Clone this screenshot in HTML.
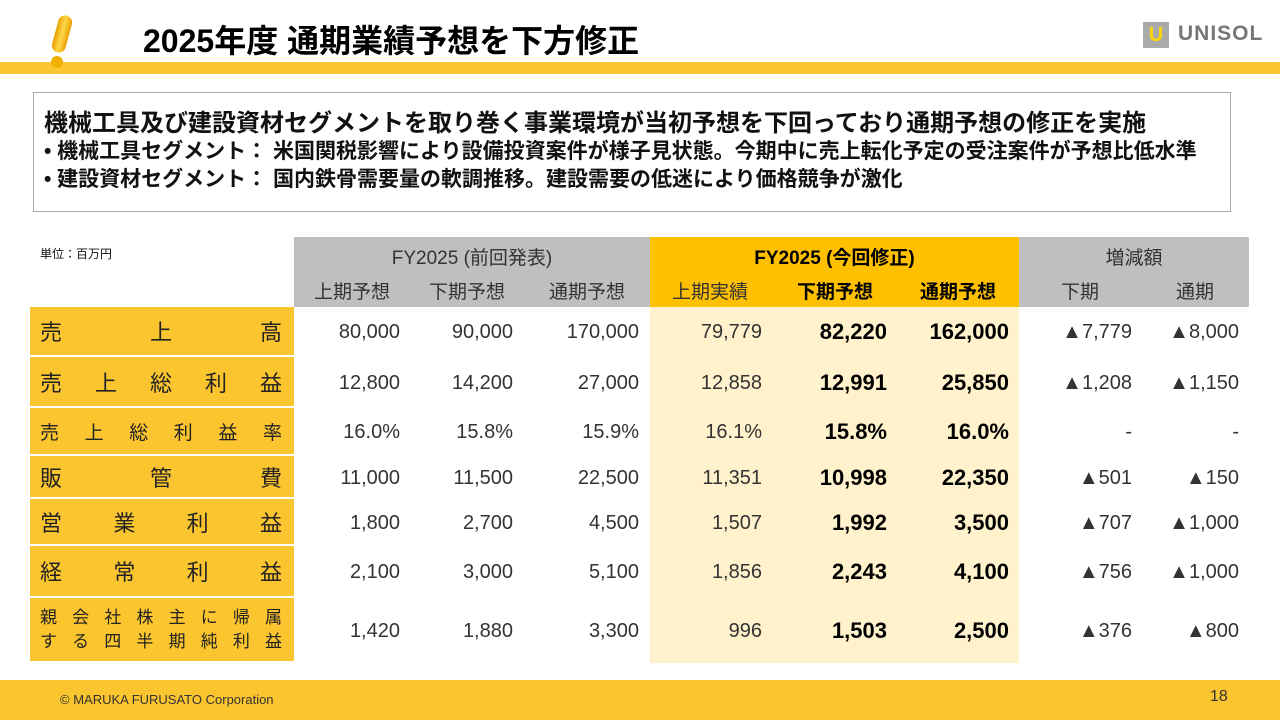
<!DOCTYPE html>
<html><head><meta charset="utf-8"><style>
*{margin:0;padding:0;box-sizing:border-box}
body{width:1280px;height:720px;position:relative;background:#fff;font-family:"Liberation Sans","Noto Sans CJK JP",sans-serif;color:#111;overflow:hidden}
.a{position:absolute}
.lab{position:absolute;left:30px;width:264px;background:#FBC52F;display:flex;justify-content:space-between;align-items:center;padding:0 12px 0 10px;font-size:22px;color:#222}
.v{position:absolute;text-align:right;font-size:20px;color:#333}
.b{font-weight:bold;font-size:22px;color:#000}
.h{position:absolute;text-align:center;font-size:19px;color:#333}
</style></head><body>
<div class="a" style="left:0;top:62px;width:1280px;height:12px;background:#FBC52F"></div>
<div class="a" style="left:55px;top:15px;width:14px;height:38px;background:linear-gradient(90deg,#e8a000,#ffd84a,#e8a000);border-radius:7px;transform:rotate(15deg)"></div>
<div class="a" style="left:51px;top:56px;width:12px;height:12px;background:#f0b000;border-radius:6px"></div>
<div class="a" style="left:143px;top:16px;font-size:32px;font-weight:bold;color:#000;white-space:nowrap">2025年度 通期業績予想を下方修正</div>
<div class="a" style="left:1143px;top:22px;width:26px;height:26px;background:#aaa;color:#ffd700;font-weight:bold;font-size:20px;text-align:center;line-height:26px">U</div>
<div class="a" style="left:1178px;top:22px;font-size:21px;font-weight:bold;color:#777;letter-spacing:1px">UNISOL</div>
<div class="a" style="left:33px;top:92px;width:1198px;height:120px;border:1px solid #aaa;padding:16px 0 0 10px;font-weight:bold;color:#111;white-space:nowrap">
<div style="font-size:24px;line-height:29px">機械工具及び建設資材セグメントを取り巻く事業環境が当初予想を下回っており通期予想の修正を実施</div>
<div style="font-size:21px;line-height:28px">• 機械工具セグメント： 米国関税影響により設備投資案件が様子見状態。今期中に売上転化予定の受注案件が予想比低水準</div>
<div style="font-size:21px;line-height:28px">• 建設資材セグメント： 国内鉄骨需要量の軟調推移。建設需要の低迷により価格競争が激化</div>
</div>
<div class="a" style="left:40px;top:245px;font-size:12px">単位：百万円</div>
<div class="a" style="left:294px;top:237px;width:356px;height:70px;background:#BFBFBF"></div>
<div class="a" style="left:650px;top:237px;width:369px;height:70px;background:#FFC000"></div>
<div class="a" style="left:650px;top:307px;width:369px;height:356px;background:#FFF2CC"></div>
<div class="a" style="left:1019px;top:237px;width:230px;height:70px;background:#BFBFBF"></div>
<div class="h" style="left:294px;top:243px;width:356px">FY2025 (前回発表)</div>
<div class="h" style="left:650px;top:243px;width:369px;font-weight:bold;color:#000">FY2025 (今回修正)</div>
<div class="h" style="left:1019px;top:243px;width:230px">増減額</div>
<div id="tbl"></div>
<div class="a" style="left:0;top:680px;width:1280px;height:40px;background:#FBC52F"></div>
<div class="a" style="left:60px;top:692px;font-size:13px;color:#333">© MARUKA FURUSATO Corporation</div>
<div class="a" style="left:1210px;top:688px;font-size:16px;color:#333">18</div>
<script>
const subHeads=["上期予想","下期予想","通期予想","上期実績","下期予想","通期予想","下期","通期"];
const rowLabels=[["売","上","高"],["売","上","総","利","益"],["売","上","総","利","益","率"],["販","管","費"],["営","業","利","益"],["経","常","利","益"],null];
const values=[
["80,000","90,000","170,000","79,779","82,220","162,000","▲7,779","▲8,000"],
["12,800","14,200","27,000","12,858","12,991","25,850","▲1,208","▲1,150"],
["16.0%","15.8%","15.9%","16.1%","15.8%","16.0%","-","-"],
["11,000","11,500","22,500","11,351","10,998","22,350","▲501","▲150"],
["1,800","2,700","4,500","1,507","1,992","3,500","▲707","▲1,000"],
["2,100","3,000","5,100","1,856","2,243","4,100","▲756","▲1,000"],
["1,420","1,880","3,300","996","1,503","2,500","▲376","▲800"]];
const rowTops=[307,357,408,456,499,546,598,663];
const colRight=[400,513,639,762,887,1009,1132,1239];
const colCenter=[352,467,587,710,835,958,1080,1195];
const t=document.getElementById('tbl');
subHeads.forEach((s,i)=>{const d=document.createElement('div');d.className='h';


d.style.cssText=`left:${colCenter[i]-60}px;width:120px;top:277px;${i==4||i==5?'font-weight:bold;color:#000':''}`;d.textContent=s;t.appendChild(d);});
values.forEach((r,ri)=>{
 const top=rowTops[ri],h=rowTops[ri+1]-top-2;
 const l=document.createElement('div');l.className='lab';
 
 
 l.style.top=top+'px';l.style.height=h+'px';
 if(rowLabels[ri]){rowLabels[ri].forEach(c=>{const s=document.createElement('span');s.textContent=c;l.appendChild(s);});if(ri==2)l.style.fontSize='19px';}
 else{l.style.flexDirection='column';l.style.fontSize='17px';l.style.justifyContent='center';
  ["親会社株主に帰属","する四半期純利益"].forEach(x=>{const r2=document.createElement('div');r2.style.cssText='display:flex;justify-content:space-between;width:100%;line-height:24px';[...x].forEach(c=>{const s=document.createElement('span');s.textContent=c;r2.appendChild(s);});l.appendChild(r2);});}
 t.appendChild(l);
 r.forEach((v,ci)=>{const d=document.createElement('div');d.className='v'+(ci==4||ci==5?' b':'');
  
  
  d.style.left=(colRight[ci]-130)+'px';d.style.width='130px';d.style.top=(top+h/2-(ci==4||ci==5?12:10))+'px';d.textContent=v;t.appendChild(d);});
});
</script>
</body></html>
